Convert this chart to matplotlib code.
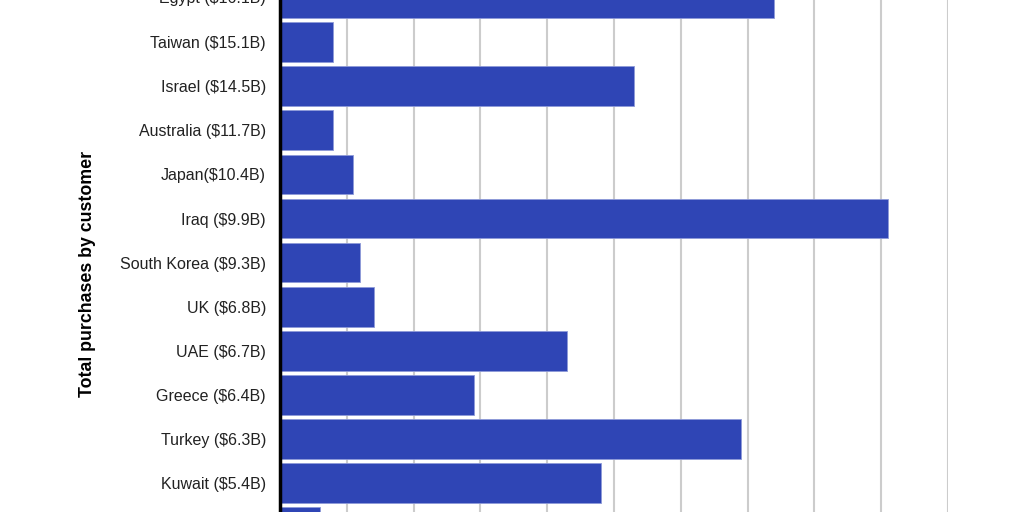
import numpy as np
import matplotlib
matplotlib.use('Agg')
import matplotlib.pyplot as plt

# Datos (la imagen esta recortada arriba y abajo)
paises = ['Egypt ($16.1B)', 'Taiwan ($15.1B)', 'Israel ($14.5B)', 'Australia ($11.7B)',
          'Japan($10.4B)', 'Iraq ($9.9B)', 'South Korea ($9.3B)', 'UK ($6.8B)',
          'UAE ($6.7B)', 'Greece ($6.4B)', 'Turkey ($6.3B)', 'Kuwait ($5.4B)', '']
valores = [74, 8, 53, 8, 11, 91, 12, 14, 43, 29, 69, 48, 6]

plt.rcParams['font.family'] = ['Liberation Sans', 'DejaVu Sans']

fig = plt.figure(figsize=(10.24, 5.12), dpi=100)
ax = fig.add_axes([280 / 1024, 0, (948 - 280) / 1024, 1])

pos = np.arange(len(paises))
ax.barh(pos, valores, height=0.9, color='#2f45b5', edgecolor='#8e9ad8', linewidth=0.6, zorder=3)

ax.set_xticks(np.arange(0, 101, 10))
ax.set_xticklabels([])
ax.tick_params(axis='x', length=0)
ax.grid(axis='x', color='#cccccc', linewidth=1.5, zorder=0)

ax.set_yticks(pos)
ax.set_yticklabels(paises, fontsize=11.5, color='#222222')
ax.tick_params(axis='y', length=0, pad=10)

# limites despues de los ticks para que no se expandan
ax.set_xlim(0, 100)
ax.set_ylim(0.045 + 512 / 44.1, 0.045)

# la primera etiqueta queda fuera de los limites: se dibuja a mano (recortada arriba)
ax.annotate(paises[0], xy=(0, pos[0]), xycoords=('axes fraction', 'data'),
            xytext=(-10, 0), textcoords='offset points', ha='right', va='center',
            fontsize=11.5, color='#222222', annotation_clip=False)

for s in ['top', 'right', 'bottom']:
    ax.spines[s].set_visible(False)
ax.spines['left'].set_linewidth(2.5)
ax.spines['left'].set_color('black')
ax.spines['left'].set_zorder(5)

fig.text(87 / 1024, 1 - 274 / 512, 'Total purchases by customer', rotation=90,
         fontsize=12.8, fontweight='bold', ha='center', va='center', color='black')

plt.savefig('out.png', dpi=100)
